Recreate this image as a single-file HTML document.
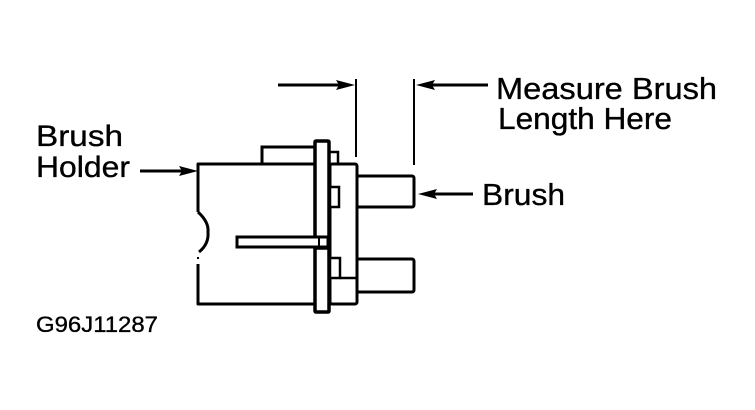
<!DOCTYPE html>
<html>
<head>
<meta charset="utf-8">
<style>
  html, body { margin: 0; padding: 0; background: #fff; }
  body { width: 755px; height: 410px; overflow: hidden; }
  svg { display: block; }
  text { font-family: "Liberation Sans", Arial, sans-serif; fill: #000; stroke: #000; stroke-width: 0.35; }
</style>
</head>
<body>
<svg width="755" height="410" viewBox="0 0 755 410" xmlns="http://www.w3.org/2000/svg">
  <rect width="755" height="410" fill="#fff"/>

  <!-- top tab on body -->
  <rect x="262" y="147" width="54" height="17" fill="#fff" stroke="#000" stroke-width="3"/>
  <!-- small tab right of plate -->
  <rect x="329" y="152" width="9" height="14" fill="#fff" stroke="#000" stroke-width="2.5"/>

  <!-- main body -->
  <rect x="198" y="164" width="116" height="140" fill="#fff" stroke="none"/>
  <path d="M198,212 L198,164 L314,164 M314,304 L198,304 L198,264"
        fill="none" stroke="#000" stroke-width="3" stroke-linejoin="round"/>
  <path d="M198,212 Q209,222 208,232 Q209,244 199,252" fill="none" stroke="#000" stroke-width="3"/>
  <rect x="197" y="257" width="2" height="2" fill="#000"/>

  <!-- brushes -->
  <rect x="357" y="176" width="57" height="31" rx="2" fill="#fff" stroke="#000" stroke-width="3"/>
  <rect x="357" y="259" width="57" height="33" rx="2" fill="#fff" stroke="#000" stroke-width="3"/>

  <!-- housing -->
  <rect x="330" y="164" width="27" height="140" rx="2" fill="#fff" stroke="#000" stroke-width="3"/>
  <!-- inner small rects -->
  <rect x="330" y="187" width="9" height="20" fill="#fff" stroke="#000" stroke-width="2.5"/>
  <rect x="330" y="258" width="10" height="20" fill="#fff" stroke="#000" stroke-width="2.5"/>
  <line x1="340" y1="278" x2="357" y2="278" stroke="#000" stroke-width="2.5"/>

  <!-- plate upper -->
  <rect x="315" y="141" width="14" height="97" rx="1" fill="#fff" stroke="#000" stroke-width="3.5"/>
  <!-- plate lower -->
  <rect x="315" y="248" width="14" height="64" rx="1" fill="#fff" stroke="#000" stroke-width="3.5"/>

  <!-- rod -->
  <rect x="237" y="237" width="91" height="10" fill="#fff" stroke="#000" stroke-width="3"/>
  <line x1="319" y1="237" x2="319" y2="247" stroke="#000" stroke-width="2"/>

  <!-- dimension lines -->
  <line x1="356" y1="79" x2="356" y2="157" stroke="#000" stroke-width="2"/>
  <line x1="414" y1="79" x2="414" y2="165" stroke="#000" stroke-width="2"/>

  <!-- arrows -->
  <line x1="278" y1="85" x2="342" y2="85" stroke="#000" stroke-width="3"/>
  <polygon points="355,85 336,80 339,85 336,90" fill="#000"/>

  <line x1="430" y1="85" x2="488" y2="85" stroke="#000" stroke-width="3"/>
  <polygon points="416,85 435,80 432,85 435,90" fill="#000"/>

  <line x1="432" y1="194" x2="473" y2="194" stroke="#000" stroke-width="3"/>
  <polygon points="418,194 437,189 434,194 437,199" fill="#000"/>

  <line x1="140" y1="171" x2="184" y2="171" stroke="#000" stroke-width="3"/>
  <polygon points="198,171 179,166 182,171 179,176" fill="#000"/>

  <!-- labels -->
  <text x="36" y="146" font-size="30" textLength="87" lengthAdjust="spacingAndGlyphs">Brush</text>
  <text x="36" y="177" font-size="30" textLength="94" lengthAdjust="spacingAndGlyphs">Holder</text>
  <text x="496" y="99" font-size="31" textLength="221" lengthAdjust="spacingAndGlyphs">Measure Brush</text>
  <text x="498" y="129" font-size="31" textLength="174" lengthAdjust="spacingAndGlyphs">Length Here</text>
  <text x="482" y="205" font-size="31" textLength="83" lengthAdjust="spacingAndGlyphs">Brush</text>
  <text x="36" y="332" font-size="22" textLength="122" lengthAdjust="spacingAndGlyphs">G96J11287</text>
</svg>
</body>
</html>
